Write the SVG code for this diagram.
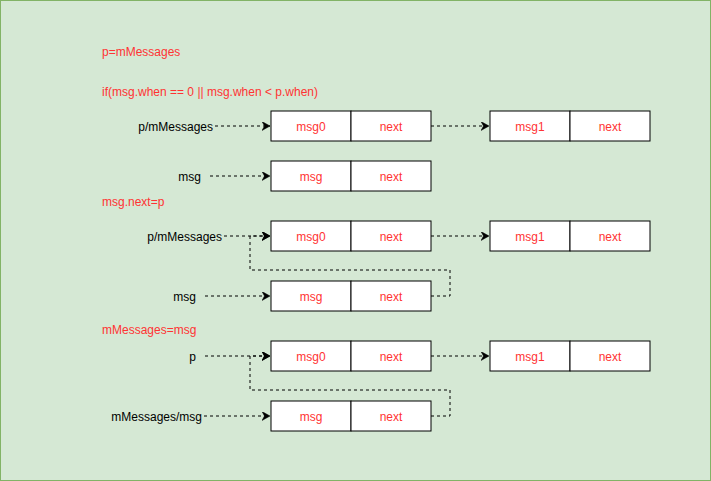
<svg xmlns="http://www.w3.org/2000/svg" width="711" height="481" viewBox="0 0 711 481">
<defs>
<marker id="ah" markerWidth="10" markerHeight="10" refX="8" refY="4.5" orient="auto" markerUnits="userSpaceOnUse">
<path d="M0,0 L8,4.5 L0,9 L2.5,4.5 Z" fill="#000" stroke="#000" stroke-width="0.5"/>
</marker>
<style>
.cell{fill:#fff;stroke:#000;stroke-width:1}
.rt{fill:#ff3333;font-family:"Liberation Sans",Arial,sans-serif;font-size:12px}
.ct{fill:#ff3333;font-family:"Liberation Sans",Arial,sans-serif;font-size:12px;text-anchor:middle}
.lb{fill:#000;font-family:"Liberation Sans",Arial,sans-serif;font-size:12px}
.cn{fill:none;stroke:#000;stroke-width:1;stroke-dasharray:3 3}
</style>
</defs>
<rect x="0.5" y="0.5" width="710" height="480" fill="#d5e8d4" stroke="#82b366"/>
<text class="rt" x="102" y="56">p=mMessages</text>
<text class="rt" x="102" y="96">if(msg.when == 0 || msg.when &lt; p.when)</text>
<text class="rt" x="102" y="206">msg.next=p</text>
<text class="rt" x="102" y="334">mMessages=msg</text>

<g id="r1-msg0"><rect class="cell" x="271" y="111" width="80" height="30"/><text class="ct" x="311" y="131">msg0</text></g>
<g id="r1-next0"><rect class="cell" x="351" y="111" width="80" height="30"/><text class="ct" x="391" y="131">next</text></g>
<g id="r1-msg1"><rect class="cell" x="490" y="111" width="80" height="30"/><text class="ct" x="530" y="131">msg1</text></g>
<g id="r1-next1"><rect class="cell" x="570" y="111" width="80" height="30"/><text class="ct" x="610" y="131">next</text></g>
<g id="r1-label"><text class="lb" x="213" y="131" text-anchor="end">p/mMessages</text></g>

<g id="r2-msg"><rect class="cell" x="271" y="161" width="80" height="30"/><text class="ct" x="311" y="181">msg</text></g>
<g id="r2-next"><rect class="cell" x="351" y="161" width="80" height="30"/><text class="ct" x="391" y="181">next</text></g>
<g id="r2-label"><text class="lb" x="201" y="181" text-anchor="end">msg</text></g>

<g id="r3-msg0"><rect class="cell" x="271" y="221" width="80" height="30"/><text class="ct" x="311" y="241">msg0</text></g>
<g id="r3-next0"><rect class="cell" x="351" y="221" width="80" height="30"/><text class="ct" x="391" y="241">next</text></g>
<g id="r3-msg1"><rect class="cell" x="490" y="221" width="80" height="30"/><text class="ct" x="530" y="241">msg1</text></g>
<g id="r3-next1"><rect class="cell" x="570" y="221" width="80" height="30"/><text class="ct" x="610" y="241">next</text></g>
<g id="r3-label"><text class="lb" x="222" y="241" text-anchor="end">p/mMessages</text></g>

<g id="r4-msg"><rect class="cell" x="271" y="281" width="80" height="30"/><text class="ct" x="311" y="301">msg</text></g>
<g id="r4-next"><rect class="cell" x="351" y="281" width="80" height="30"/><text class="ct" x="391" y="301">next</text></g>
<g id="r4-label"><text class="lb" x="196" y="301" text-anchor="end">msg</text></g>

<g id="r5-msg0"><rect class="cell" x="271" y="341" width="80" height="30"/><text class="ct" x="311" y="361">msg0</text></g>
<g id="r5-next0"><rect class="cell" x="351" y="341" width="80" height="30"/><text class="ct" x="391" y="361">next</text></g>
<g id="r5-msg1"><rect class="cell" x="490" y="341" width="80" height="30"/><text class="ct" x="530" y="361">msg1</text></g>
<g id="r5-next1"><rect class="cell" x="570" y="341" width="80" height="30"/><text class="ct" x="610" y="361">next</text></g>
<g id="r5-label"><text class="lb" x="196" y="361" text-anchor="end">p</text></g>

<g id="r6-msg"><rect class="cell" x="271" y="401" width="80" height="30"/><text class="ct" x="311" y="421">msg</text></g>
<g id="r6-next"><rect class="cell" x="351" y="401" width="80" height="30"/><text class="ct" x="391" y="421">next</text></g>
<g id="r6-label"><text class="lb" x="202" y="421" text-anchor="end">mMessages/msg</text></g>

<g id="connectors">
<path class="cn" d="M215,126 L270,126" marker-end="url(#ah)"/>
<path class="cn" d="M431,126 L489,126" marker-end="url(#ah)"/>
<path class="cn" d="M210,176 L270,176" marker-end="url(#ah)"/>
<path class="cn" d="M224,236 L270,236" marker-end="url(#ah)"/>
<path class="cn" d="M431,236 L489,236" marker-end="url(#ah)"/>
<path class="cn" d="M205,296 L270,296" marker-end="url(#ah)"/>
<path class="cn" d="M431,296 L450,296 L450,270 L250,270 L250,236 L270,236" marker-end="url(#ah)"/>
<path class="cn" d="M205,356 L270,356" marker-end="url(#ah)"/>
<path class="cn" d="M431,356 L489,356" marker-end="url(#ah)"/>
<path class="cn" d="M204,416 L270,416" marker-end="url(#ah)"/>
<path class="cn" d="M431,416 L450,416 L450,390 L250,390 L250,356 L270,356" marker-end="url(#ah)"/>
</g>
</svg>
